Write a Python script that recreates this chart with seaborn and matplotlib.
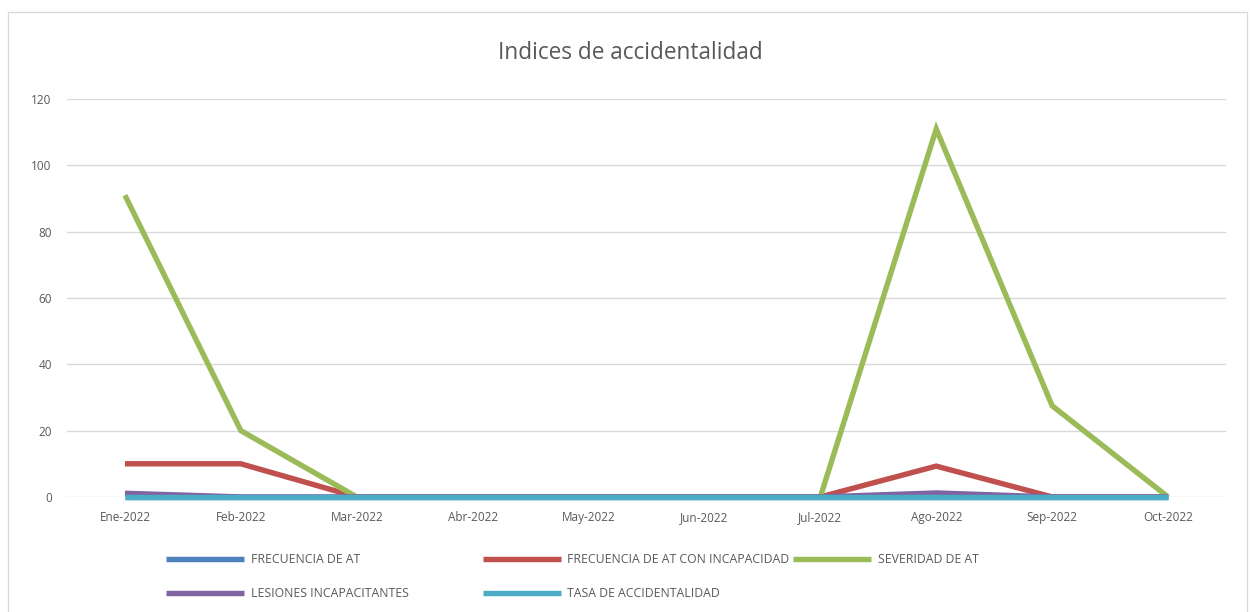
import matplotlib
matplotlib.use('Agg')
import matplotlib.pyplot as plt
import seaborn as sns
import pandas as pd
from matplotlib.patches import Rectangle
from matplotlib.lines import Line2D

meses = ['Ene-2022', 'Feb-2022', 'Mar-2022', 'Abr-2022', 'May-2022',
         'Jun-2022', 'Jul-2022', 'Ago-2022', 'Sep-2022', 'Oct-2022']
frecuencia_at = [0, 0, 0, 0, 0, 0, 0, 0, 0, 0]
frecuencia_incap = [10, 10, 0, 0, 0, 0, 0, 9.3, 0, 0]
severidad_at = [91, 20, 0, 0, 0, 0, 0, 111, 27.5, 0]
lesiones_incap = [1.1, 0, 0, 0, 0, 0, 0, 1.2, 0, 0]
tasa_accid = [0, 0, 0, 0, 0, 0, 0, 0, 0, 0]

series = ['FRECUENCIA DE AT', 'FRECUENCIA DE AT CON INCAPACIDAD', 'SEVERIDAD DE AT',
          'LESIONES INCAPACITANTES', 'TASA DE ACCIDENTALIDAD']
colores = ['#4F81BD', '#C0504D', '#9BBB59', '#8064A2', '#4BACC6']

valores = [frecuencia_at, frecuencia_incap, severidad_at, lesiones_incap, tasa_accid]
rows = []
for nombre, vals in zip(series, valores):
    for m, v in zip(meses, vals):
        rows.append({'mes': m, 'valor': v, 'serie': nombre})
df = pd.DataFrame(rows)

sns.set_style('white')
plt.rcParams['font.family'] = ['Open Sans', 'DejaVu Sans']
gris = '#595959'
lw = 3.9

fig = plt.figure(figsize=(12.5, 6.12), dpi=100)
ax = fig.add_axes([0.0536, 0.188, 0.9272, 0.650])

for i, nombre in enumerate(series):
    sub = df[df['serie'] == nombre]
    sns.lineplot(data=sub, x='mes', y='valor', color=colores[i], lw=lw,
                 sort=False, ax=ax, clip_on=False, zorder=3 + i,
                 solid_joinstyle='miter', solid_capstyle='butt')

ax.set_xlim(-0.5, len(meses) - 0.5)
ax.set_ylim(0, 120)
ax.set_yticks(range(0, 121, 20))
ax.grid(axis='y', color='#D9D9D9', lw=1)
ax.set_axisbelow(True)
for s in ax.spines.values():
    s.set_visible(False)
ax.tick_params(axis='both', length=0, colors=gris, labelsize=8.5)
ax.tick_params(axis='x', pad=10)
ax.tick_params(axis='y', pad=11)
ax.set_xlabel('')
ax.set_ylabel('')
if ax.get_legend() is not None:
    ax.get_legend().remove()

fig.text(0.504, 0.913, 'Indices de accidentalidad', ha='center', va='center',
         fontsize=16.3, color=gris)

handles = [Line2D([], [], color=c, lw=lw, solid_capstyle='butt') for c in colores]
leg_kw = dict(frameon=False, fontsize=8.8, labelcolor=gris, handlelength=6.4,
              handletextpad=0.55, labelspacing=1.72, borderaxespad=0, borderpad=0)
leg1 = fig.legend([handles[0], handles[3]], [series[0], series[3]], ncol=1,
                  loc='upper left', bbox_to_anchor=(0.133, 0.096), **leg_kw)
leg2 = fig.legend([handles[1], handles[4], handles[2]],
                  [series[1], series[4], series[2]], ncol=2,
                  loc='upper left', bbox_to_anchor=(0.386, 0.096),
                  columnspacing=0.3, **leg_kw)

fig.patches.append(Rectangle((0.0064, -0.01), 0.991, 0.99, transform=fig.transFigure,
                             fill=False, edgecolor='#D9D9D9', lw=1))

fig.savefig('out.png', dpi=100)
